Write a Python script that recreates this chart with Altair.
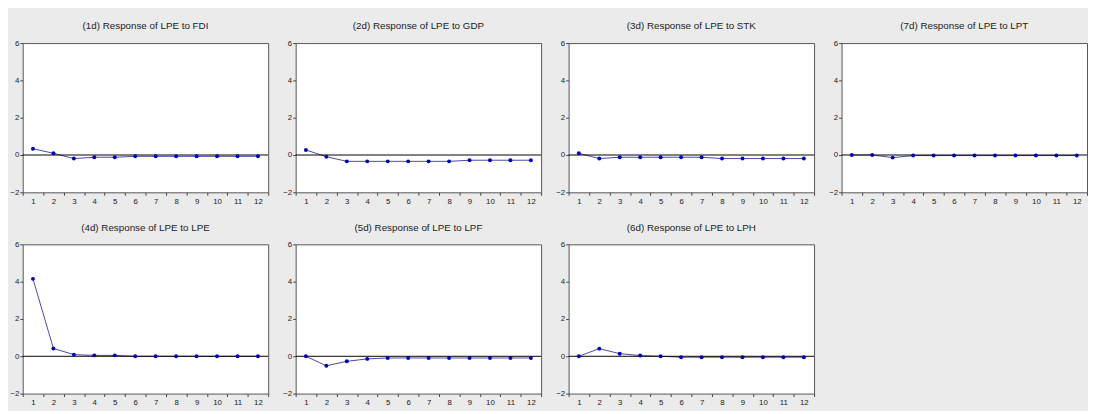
import altair as alt
import pandas as pd

horizons = list(range(1, 13))

titles = [
    "(1d) Response of LPE to FDI",
    "(2d) Response of LPE to GDP",
    "(3d) Response of LPE to STK",
    "(7d) Response of LPE to LPT",
    "(4d) Response of LPE to LPE",
    "(5d) Response of LPE to LPF",
    "(6d) Response of LPE to LPH",
]

resp_fdi = [0.34, 0.09, -0.19, -0.12, -0.12, -0.07, -0.07, -0.07, -0.07, -0.07, -0.07, -0.07]
resp_gdp = [0.27, -0.09, -0.34, -0.34, -0.34, -0.34, -0.34, -0.34, -0.28, -0.28, -0.28, -0.28]
resp_stk = [0.09, -0.19, -0.12, -0.12, -0.12, -0.12, -0.12, -0.19, -0.19, -0.19, -0.19, -0.19]
resp_lpt = [0.0, 0.0, -0.14, -0.03, -0.03, -0.03, -0.03, -0.03, -0.03, -0.03, -0.03, -0.03]
resp_lpe = [4.15, 0.42, 0.09, 0.05, 0.05, 0.0, 0.0, 0.0, 0.0, 0.0, 0.0, 0.0]
resp_lpf = [0.0, -0.51, -0.27, -0.14, -0.09, -0.09, -0.09, -0.09, -0.09, -0.09, -0.09, -0.09]
resp_lph = [0.0, 0.41, 0.14, 0.04, 0.0, -0.05, -0.05, -0.05, -0.05, -0.05, -0.05, -0.05]

series = [resp_fdi, resp_gdp, resp_stk, resp_lpt, resp_lpe, resp_lpf, resp_lph]

y_ticks = [-2, 0, 2, 4, 6]
zero_level = [0]
FONT = "Liberation Sans"


def panel(title, values):
    df = pd.DataFrame({"h": horizons, "v": values})
    yscale = alt.Scale(domain=[-2, 6], nice=False, zero=False)
    yaxis = alt.Axis(
        title=None, values=y_ticks, tickSize=3, domain=False, grid=False,
        labelFontSize=8, labelColor="#222", labelPadding=1,
        tickColor="#444", labelFont=FONT, labelOverlap=False,
        labelFlush=False,
    )
    x = alt.X(
        "h:O",
        scale=alt.Scale(type="band", paddingInner=0, paddingOuter=0),
        bandPosition=0.5,
        axis=alt.Axis(
            title=None, labelAngle=0, tickBand="extent", tickSize=3,
            domain=False, labelFontSize=8, labelColor="#222", labelPadding=2,
            tickColor="#444", labelFont=FONT, labelOverlap=False,
        ),
    )
    y = alt.Y("v:Q", scale=yscale, axis=yaxis)
    base = alt.Chart(df)
    zero = alt.Chart(pd.DataFrame({"z": zero_level})).mark_rule(
        color="black", strokeWidth=1
    ).encode(y=alt.Y("z:Q", scale=yscale, axis=yaxis))
    line = base.mark_line(color="#4848a8", strokeWidth=1).encode(x=x, y=y)
    pts = base.mark_point(filled=True, color="#0000b4", size=16, opacity=1).encode(x=x, y=y)
    return (line + zero + pts).properties(
        width=250, height=152,
        title=alt.TitleParams(
            title, fontSize=10, font=FONT, fontWeight="normal",
            color="#222", offset=8,
        ),
    )


charts = [panel(t, s) for t, s in zip(titles, series)]

top = alt.hconcat(*charts[:4], spacing=13)
bottom = alt.hconcat(*charts[4:], spacing=13)

chart = alt.vconcat(top, bottom, spacing=16).properties(
    background="#ebebeb",
    padding={"left": 1, "top": 9, "right": 0, "bottom": 0},
).configure_view(
    fill="white", stroke="#555", strokeWidth=1,
)

chart.save("out.html", embed_options={"renderer": "svg", "actions": False})
